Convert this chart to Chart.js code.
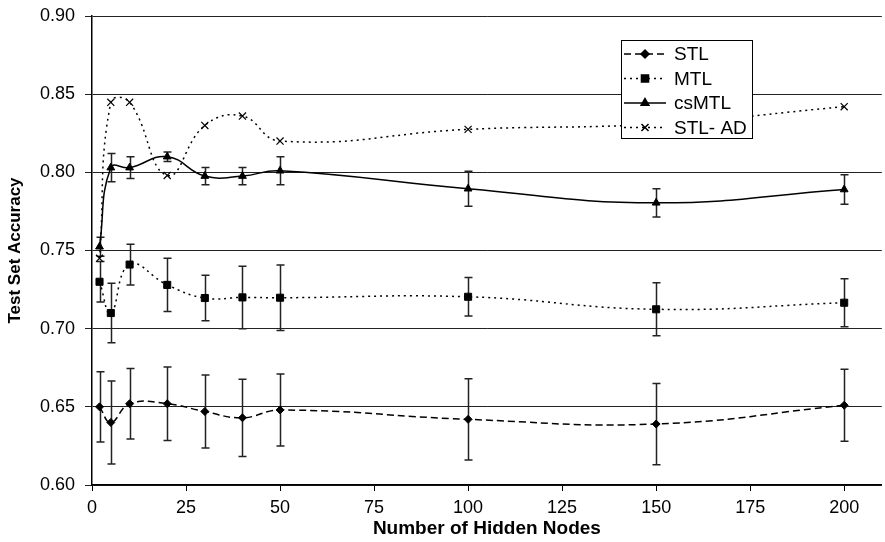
<!DOCTYPE html>
<html>
<head>
<meta charset="utf-8">
<script src="https://cdn.jsdelivr.net/npm/chart.js@4/dist/chart.umd.min.js"></script>
<style>
    html, body { margin: 0; padding: 0; background: #fff; overflow: hidden; }
    /* 3px wider than the window so the plot reaches the right edge like the original */
    #wrap { width: 888px; height: 542px; position: relative; }
</style>
</head>
<body>
<div id="wrap"><canvas id="accChart"></canvas></div>
<script>
// Data
const nodes = [2, 5, 10, 20, 30, 40, 50, 100, 150, 200];

const stl    = [0.650, 0.640, 0.652, 0.652, 0.647, 0.643, 0.648, 0.642, 0.639, 0.651];
const stlErr = [0.0225, 0.0265, 0.0226, 0.0235, 0.0233, 0.0247, 0.023, 0.026, 0.026, 0.023];

const mtl    = [0.730, 0.710, 0.741, 0.728, 0.7196, 0.720, 0.7198, 0.7204, 0.7124, 0.7166];
const mtlErr = [0.013, 0.019, 0.013, 0.017, 0.0145, 0.020, 0.021, 0.0123, 0.017, 0.0153];

const csmtl    = [0.7524, 0.803, 0.803, 0.810, 0.7976, 0.7976, 0.801, 0.7895, 0.7805, 0.789];
const csmtlErr = [0.006, 0.009, 0.007, 0.003, 0.0055, 0.0055, 0.009, 0.0112, 0.009, 0.0094];

const stlAd = [0.745, 0.8448, 0.8448, 0.798, 0.830, 0.836, 0.820, 0.8275, 0.831, 0.842];

const yTicks = [0.60, 0.65, 0.70, 0.75, 0.80, 0.85, 0.90];
const xTicks = [0, 25, 50, 75, 100, 125, 150, 175, 200];

const seriesNames = ['STL', 'MTL', 'csMTL', 'STL- AD'];

function toPoints(ys) {
    return nodes.map((n, i) => ({ x: n, y: ys[i] }));
}

// error bars, drawn under the markers
const errorBars = {
    id: 'errorBars',
    beforeDatasetsDraw(chart) {
        const ctx = chart.ctx;
        const yScale = chart.scales.y;
        ctx.save();
        ctx.strokeStyle = '#222';
        ctx.lineWidth = 1.5;
        ctx.setLineDash([]);
        chart.data.datasets.forEach((ds, i) => {
            if (!ds.errors) return;
            const meta = chart.getDatasetMeta(i);
            meta.data.forEach((pt, j) => {
                const v = ds.data[j].y;
                const e = ds.errors[j];
                const top = yScale.getPixelForValue(v + e);
                const bot = yScale.getPixelForValue(v - e);
                const x = Math.round(pt.x) + 0.5;
                ctx.beginPath();
                ctx.moveTo(x, top);
                ctx.lineTo(x, bot);
                ctx.moveTo(x - 4, top);
                ctx.lineTo(x + 4, top);
                ctx.moveTo(x - 4, bot);
                ctx.lineTo(x + 4, bot);
                ctx.stroke();
            });
        });
        ctx.restore();
    }
};

// legend box inside the plot, like the original
const boxLegend = {
    id: 'boxLegend',
    afterDraw(chart) {
        const ctx = chart.ctx;
        const left = 621, top = 40, w = 131, h = 98;
        ctx.save();
        ctx.fillStyle = '#fff';
        ctx.fillRect(left, top, w, h);
        ctx.strokeStyle = '#000';
        ctx.lineWidth = 1;
        ctx.strokeRect(left + 0.5, top + 0.5, w, h);
        ctx.font = '19px "Liberation Sans", Arial, sans-serif';
        ctx.textBaseline = 'middle';
        chart.data.datasets.forEach((ds, i) => {
            const y = top + 14 + i * 24.5;
            ctx.strokeStyle = '#000';
            ctx.lineWidth = ds.borderWidth;
            ctx.setLineDash(ds.borderDash || []);
            ctx.beginPath();
            ctx.moveTo(left + 3, y);
            ctx.lineTo(left + 45, y);
            ctx.stroke();
            ctx.setLineDash([]);
            ctx.fillStyle = '#000';
            Chart.helpers.drawPoint(ctx, {
                pointStyle: ds.pointStyle,
                radius: ds.pointRadius,
                rotation: 0,
                borderWidth: ds.pointBorderWidth || 1
            }, left + 24, y);
            ctx.fillStyle = '#000';
            ctx.fillText(seriesNames[i], left + 53, y + 1);
        });
        ctx.restore();
    }
};

const ctx = document.getElementById('accChart').getContext('2d');
new Chart(ctx, {
    type: 'line',
    data: {
        datasets: [
            {
                label: seriesNames[0],
                data: toPoints(stl),
                errors: stlErr,
                borderColor: '#000',
                backgroundColor: '#000',
                borderWidth: 1.5,
                borderDash: [7, 4],
                pointStyle: 'rectRot',
                pointRadius: 4,
                pointBorderWidth: 1,
                tension: 0.45
            },
            {
                label: seriesNames[1],
                data: toPoints(mtl),
                errors: mtlErr,
                borderColor: '#000',
                backgroundColor: '#000',
                borderWidth: 1.5,
                borderDash: [2, 4],
                pointStyle: 'rect',
                pointRadius: 5,
                pointBorderWidth: 1,
                tension: 0.45
            },
            {
                label: seriesNames[2],
                data: toPoints(csmtl),
                errors: csmtlErr,
                borderColor: '#000',
                backgroundColor: '#000',
                borderWidth: 1.5,
                pointStyle: 'triangle',
                pointRadius: 4.5,
                pointBorderWidth: 1,
                tension: 0.45
            },
            {
                label: seriesNames[3],
                data: toPoints(stlAd),
                borderColor: '#000',
                backgroundColor: '#000',
                borderWidth: 1.5,
                borderDash: [2, 4],
                pointStyle: 'crossRot',
                pointRadius: 5,
                pointBorderWidth: 1.2,
                tension: 0.45
            }
        ]
    },
    options: {
        responsive: true,
        maintainAspectRatio: false,
        animation: false,
        events: [],
        layout: { padding: { left: 0, right: 0, top: 16, bottom: 0 } },
        plugins: {
            legend: { display: false },
            tooltip: { enabled: false }
        },
        scales: {
            x: {
                type: 'linear',
                min: 0,
                max: 210,
                afterFit(scale) {
                    scale.height = 57;
                    scale.paddingLeft = 0;
                    scale.paddingRight = 0;
                },
                afterBuildTicks(scale) {
                    scale.ticks = xTicks.map(v => ({ value: v }));
                },
                border: { color: '#000', width: 1.5 },
                grid: {
                    drawOnChartArea: false,
                    drawTicks: true,
                    tickLength: 6,
                    color: '#000'
                },
                ticks: {
                    color: '#000',
                    padding: 6,
                    maxRotation: 0,
                    font: { family: '"Liberation Sans", Arial, sans-serif', size: 18 },
                    callback: v => String(v)
                },
                title: {
                    display: true,
                    text: 'Number of Hidden Nodes',
                    color: '#000',
                    padding: { top: 0, bottom: 2 },
                    font: { family: '"Liberation Sans", Arial, sans-serif', size: 19, weight: 'bold' }
                }
            },
            y: {
                min: 0.6,
                max: 0.9,
                afterFit(scale) {
                    scale.width = 92;
                    scale.paddingTop = 0;
                    scale.paddingBottom = 0;
                },
                afterBuildTicks(scale) {
                    scale.ticks = yTicks.map(v => ({ value: v }));
                },
                border: { color: '#000', width: 1.5 },
                grid: {
                    color: '#222',
                    lineWidth: 1,
                    drawTicks: true,
                    tickLength: 7
                },
                ticks: {
                    color: '#000',
                    padding: 10,
                    font: { family: '"Liberation Sans", Arial, sans-serif', size: 18 },
                    callback: v => Number(v).toFixed(2)
                },
                title: {
                    display: true,
                    text: 'Test Set Accuracy',
                    color: '#000',
                    padding: { top: 5, bottom: 0 },
                    font: { family: '"Liberation Sans", Arial, sans-serif', size: 17, weight: 'bold' }
                }
            }
        }
    },
    plugins: [errorBars, boxLegend]
});
</script>
</body>
</html>
